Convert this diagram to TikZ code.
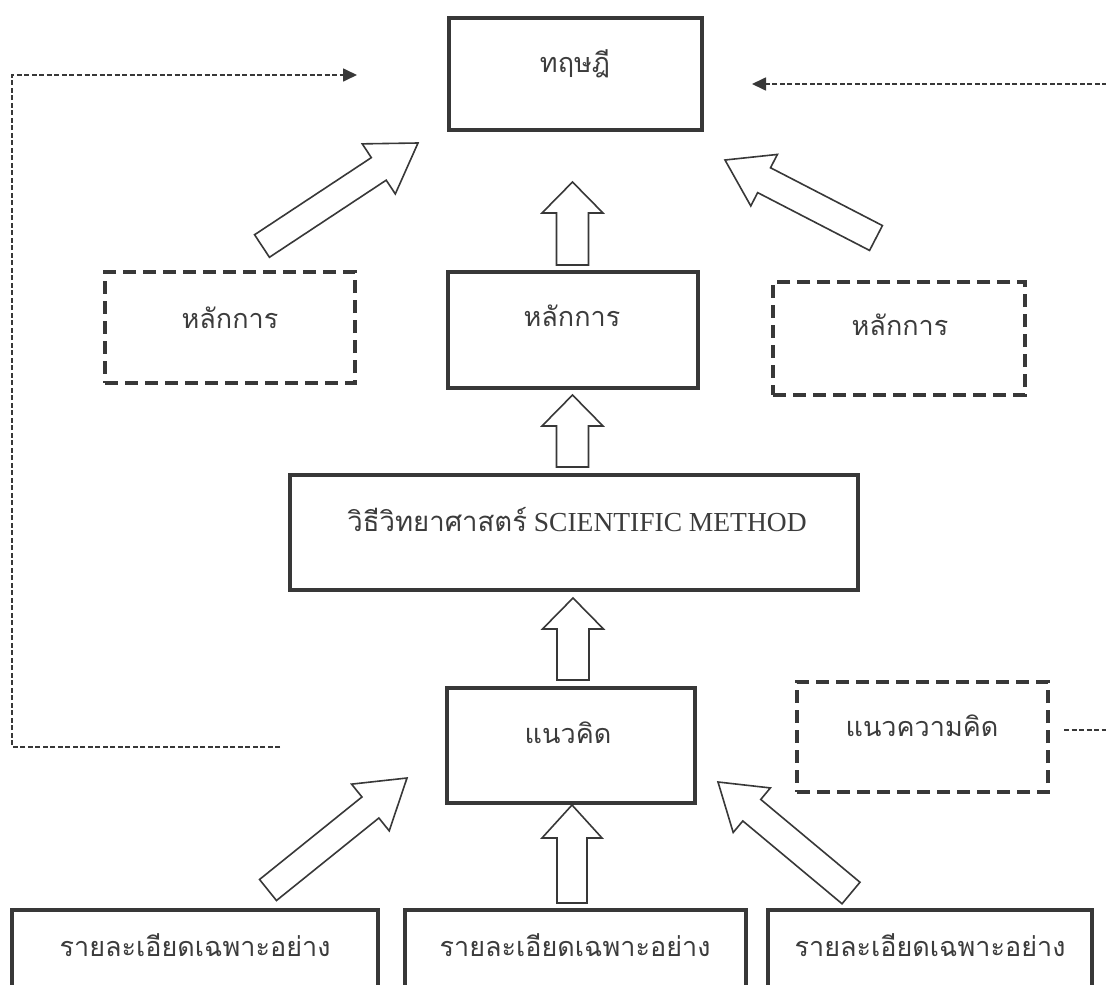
\documentclass[tikz,border=0pt]{standalone}
\usepackage{fontspec}
\setmainfont{Liberation Serif}
\newfontfamily\thaifont[Script=Thai]{Loma}
\usetikzlibrary{calc,arrows.meta}
\definecolor{ink}{HTML}{383838}
\definecolor{txt}{HTML}{3C3C3C}
\newcommand\blockarr[5]{%
  \coordinate (#1-#2-b) at ($(#2)!#5!(#1)$);
  \draw[blockarrow]
    ($(#1)!#3!90:(#2)$) -- ($(#1-#2-b)!#3!90:(#2)$) -- ($(#1-#2-b)!#4!90:(#2)$)
    -- (#2) -- ($(#1-#2-b)!#4!-90:(#2)$) -- ($(#1-#2-b)!#3!-90:(#2)$)
    -- ($(#1)!#3!-90:(#2)$) -- cycle;}
\begin{document}
\begin{tikzpicture}[x=1pt,y=-1pt,
  solidbox/.style={draw=ink, line width=4pt, inner sep=0pt},
  dashbox/.style={draw=ink, line width=4pt, inner sep=0pt, dash pattern=on 13pt off 7pt},
  thtext/.style={font=\thaifont\fontsize{27}{30}\selectfont, text=txt, inner sep=0pt},
  blockarrow/.style={draw=ink, fill=white, line width=1.6pt, line join=miter},
  dashline/.style={draw=ink, line width=1.7pt, dash pattern=on 5pt off 2.5pt},
  tiparrow/.style={-{Triangle[length=14pt,width=13pt]}}]
\useasboundingbox (0,0) rectangle (1106,985);
\fill[white] (0,0) rectangle (1106,985);
\clip (0,0) rectangle (1106,985);

% boxes
\node[solidbox, minimum width=253pt, minimum height=112pt] (theory) at (575.5,74) {};
\node[thtext] (theoryT) at (575,64) {ทฤษฎี};

\node[solidbox, minimum width=250pt, minimum height=116pt] (princM) at (573,330) {};
\node[thtext] (princMT) at (572,316) {หลักการ};

\node[dashbox, minimum width=250pt, minimum height=111pt] (princL) at (230,327.5) {};
\node[thtext] (princLT) at (230,318) {หลักการ};

\node[dashbox, minimum width=252pt, minimum height=113pt] (princR) at (899,338.5) {};
\node[thtext] (princRT) at (900,325) {หลักการ};

\node[solidbox, minimum width=568pt, minimum height=115pt] (method) at (574,532.5) {};
\node[font=\fontsize{27.5}{30}\selectfont, text=txt, inner sep=0pt] (methodT) at (577,520)
  {{\thaifont วิธีวิทยาศาสตร์} SCIENTIFIC METHOD};

\node[solidbox, minimum width=248pt, minimum height=115pt] (concept) at (571,745.5) {};
\node[thtext] (conceptT) at (568,733) {แนวคิด};

\node[dashbox, minimum width=251pt, minimum height=110pt] (idea) at (922.5,737) {};
\node[thtext] (ideaT) at (922,726) {แนวความคิด};

\node[solidbox, minimum width=366pt, minimum height=110pt] (detL) at (195,965) {};
\node[thtext] (detLT) at (195,945) {รายละเอียดเฉพาะอย่าง};
\node[solidbox, minimum width=341pt, minimum height=110pt] (detM) at (575.5,965) {};
\node[thtext] (detMT) at (575,945) {รายละเอียดเฉพาะอย่าง};
\node[solidbox, minimum width=324pt, minimum height=110pt] (detR) at (930,965) {};
\node[thtext] (detRT) at (930,945) {รายละเอียดเฉพาะอย่าง};

% block arrow end points
\coordinate (a1t) at (572.5,265); \coordinate (a1h) at (572.5,182);
\coordinate (a2t) at (572.5,467); \coordinate (a2h) at (572.5,395);
\coordinate (a3t) at (573,680);   \coordinate (a3h) at (573,598);
\coordinate (a4t) at (572,903);   \coordinate (a4h) at (572,805);
\coordinate (ult) at (262,246);   \coordinate (ulh) at (418,143);
\coordinate (urt) at (876,238);   \coordinate (urh) at (725,160);
\coordinate (llt) at (268,890);   \coordinate (llh) at (407,778);
\coordinate (lrt) at (851,893);   \coordinate (lrh) at (718,782);

\blockarr{a1t}{a1h}{16pt}{30.5pt}{31pt}
\blockarr{a2t}{a2h}{16pt}{30.5pt}{31pt}
\blockarr{a3t}{a3h}{16pt}{30.5pt}{31pt}
\blockarr{a4t}{a4h}{15pt}{30pt}{33pt}
\blockarr{ult}{ulh}{13.5pt}{30pt}{47pt}
\blockarr{urt}{urh}{14pt}{29pt}{44pt}
\blockarr{llt}{llh}{13.5pt}{30pt}{47pt}
\blockarr{lrt}{lrh}{14pt}{29pt}{44pt}

% dashed feedback lines
\coordinate (dlStart) at (280,747);
\coordinate (dlC1) at (12,747);
\coordinate (dlC2) at (12,75);
\coordinate (dlEnd) at (357,75);
\draw[dashline, tiparrow] (dlStart) -- (dlC1) -- (dlC2) -- (dlEnd);

\coordinate (drStart) at (1064,730);
\coordinate (drC1) at (1130,730);
\coordinate (drC2) at (1130,84);
\coordinate (drEnd) at (752,84);
\draw[dashline, tiparrow] (drStart) -- (drC1) -- (drC2) -- (drEnd);
\end{tikzpicture}
\end{document}
